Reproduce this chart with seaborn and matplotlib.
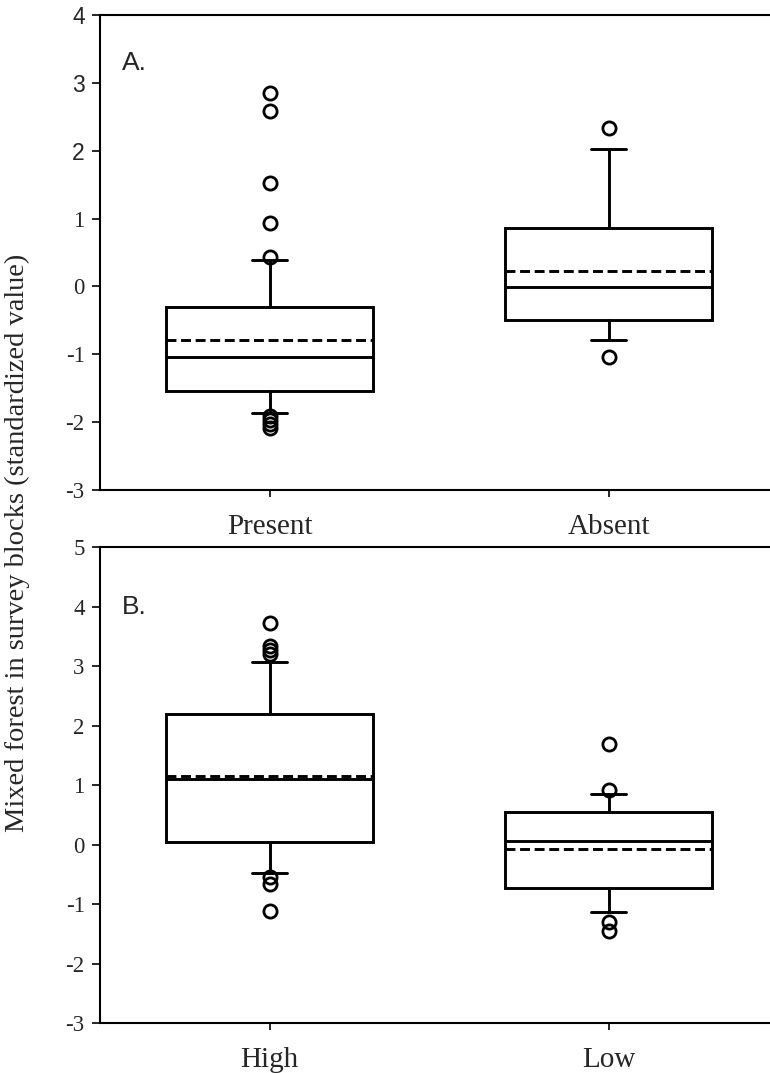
import matplotlib
matplotlib.use("Agg")
import matplotlib.pyplot as plt
import seaborn as sns

# Panel A: goshawk presence
groups_a = ["Present", "Absent"]
med_a = [-1.04, -0.01]
mean_a = [-0.79, 0.23]
q1_a = [-1.54, -0.49]
q3_a = [-0.30, 0.86]
whislo_a = [-1.87, -0.79]
whishi_a = [0.39, 2.03]
fliers_a = [[2.85, 2.58, 1.52, 0.93, 0.44, -1.91, -1.97, -2.03, -2.09],
            [2.34, -1.04]]

# Panel B: occupancy
groups_b = ["High", "Low"]
med_b = [1.10, 0.06]
mean_b = [1.15, -0.08]
q1_b = [0.04, -0.73]
q3_b = [2.20, 0.54]
whislo_b = [-0.48, -1.13]
whishi_b = [3.06, 0.85]
fliers_b = [[3.72, 3.33, 3.27, 3.21, -0.55, -0.67, -1.11],
            [1.69, 0.92, -1.30, -1.45]]

sns.set_theme(style="ticks")
plt.rcParams['font.family'] = ['Liberation Serif', 'DejaVu Serif']

LW = 2.1


def draw_panel(ax, groups, med, mean, q1, q3, lo, hi, fliers, ylim, letter):
    stats = []
    for i, g in enumerate(groups):
        stats.append(dict(label=g, med=med[i], mean=mean[i], q1=q1[i], q3=q3[i],
                          whislo=lo[i], whishi=hi[i], fliers=fliers[i]))
    ax.bxp(stats, positions=range(len(groups)), widths=0.61, capwidths=0.105,
           showmeans=True, meanline=True, patch_artist=True,
           boxprops=dict(facecolor='white', edgecolor='black', linewidth=LW),
           medianprops=dict(color='black', linewidth=LW),
           meanprops=dict(color='black', linewidth=LW, linestyle=(0, (3.4, 1.6))),
           whiskerprops=dict(color='black', linewidth=LW),
           capprops=dict(color='black', linewidth=LW),
           flierprops=dict(marker='o', markerfacecolor='none', markeredgecolor='black',
                           markersize=9.5, markeredgewidth=2.0))
    ax.set_xlim(-0.5, 1.5)
    ax.set_ylim(*ylim)
    ticks = list(range(ylim[0], ylim[1] + 1))
    ax.set_yticks(ticks)
    ax.set_yticklabels([str(t) for t in ticks])
    ax.set_xticks(range(len(groups)))
    ax.set_xticklabels(groups, fontsize=21)
    ax.tick_params(axis='y', direction='out', length=6, width=1.4, labelsize=16.5, pad=5)
    ax.tick_params(axis='x', direction='out', length=5, width=1.4, pad=12)
    for s in ax.spines.values():
        s.set_linewidth(1.5)
        s.set_color('black')
    ax.text(0.032, 0.9 if letter == "A." else 0.873, letter, transform=ax.transAxes,
            fontsize=19, family='Liberation Sans', ha='left', va='center')
    ax.set_facecolor('white')


fig = plt.figure(figsize=(7.7, 10.73), dpi=100)
fig.patch.set_facecolor('white')
ax_a = fig.add_axes([0.1299, 0.5433, 0.8805, 0.4427])
ax_b = fig.add_axes([0.1299, 0.0466, 0.8805, 0.4436])

draw_panel(ax_a, groups_a, med_a, mean_a, q1_a, q3_a, whislo_a, whishi_a, fliers_a, (-3, 4), "A.")
draw_panel(ax_b, groups_b, med_b, mean_b, q1_b, q3_b, whislo_b, whishi_b, fliers_b, (-3, 5), "B.")

# upper tick labels of panel A are set in a sans face in the original
for lbl, t in zip(ax_a.get_yticklabels(), ax_a.get_yticks()):
    if t >= 2:
        lbl.set_fontfamily('Liberation Sans')

fig.text(0.022, 0.494, "Mixed forest in survey blocks (standardized value)",
         rotation=90, ha='center', va='center', fontsize=20.5)

fig.savefig("out.png", dpi=100)
